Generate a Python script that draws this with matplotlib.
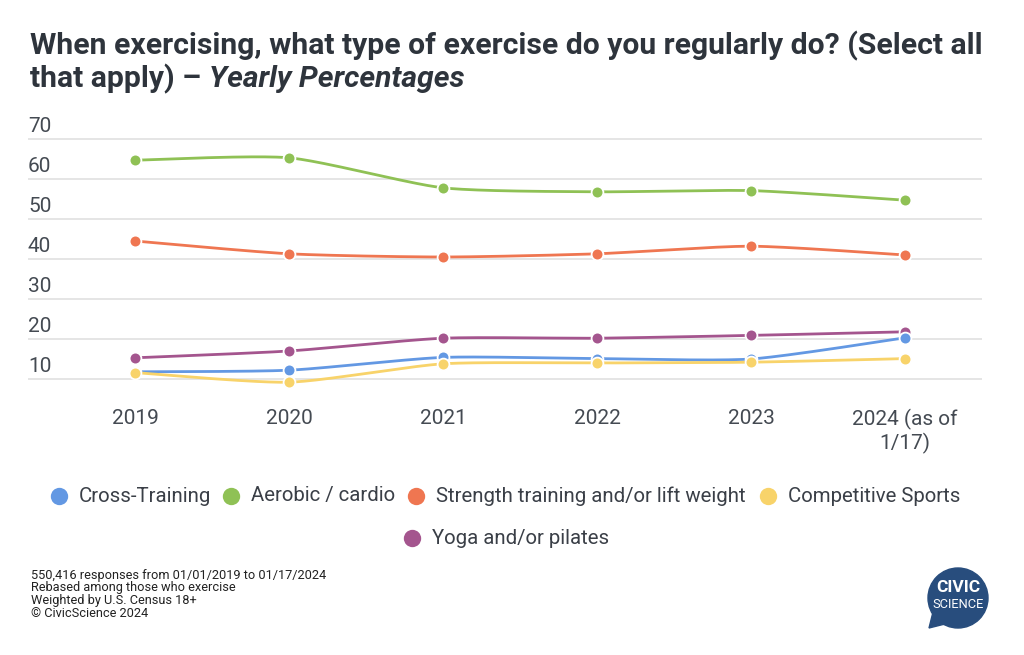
import numpy as np
import matplotlib
matplotlib.use("Agg")
import matplotlib.pyplot as plt
from matplotlib.patches import Circle, Polygon

# ---------------- data ----------------
categories = ["2019", "2020", "2021", "2022", "2023", "2024 (as of\n1/17)"]
series_names = ["Cross-Training", "Aerobic / cardio", "Strength training and/or lift weight",
                "Competitive Sports", "Yoga and/or pilates"]
cross_training = [11.8, 12.2, 15.4, 15.1, 15.0, 20.3]
aerobic = [64.7, 65.3, 57.8, 56.8, 57.1, 54.7]
strength = [44.5, 41.3, 40.5, 41.3, 43.2, 41.0]
competitive = [11.6, 9.2, 13.8, 14.0, 14.2, 15.1]
yoga = [15.3, 17.0, 20.2, 20.2, 20.9, 21.8]
y_ticks = [10, 20, 30, 40, 50, 60, 70]

colors = ["#6398e3", "#8fc155", "#ef7651", "#f8d36a", "#a4558e"]
values = [cross_training, aerobic, strength, competitive, yoga]
draw_order = [1, 2, 4, 0, 3]

W, H = 1024, 655
fig = plt.figure(figsize=(W / 100, H / 100), dpi=100)
FONT = "Roboto"
TXT = "#3a3f47"


def fx(px):
    return px / W


def fy(py):
    return 1 - py / H


# ---------------- axes ----------------
ax_top, ax_bot, ax_l, ax_r = 120, 395, 28, 982
ax = fig.add_axes([fx(ax_l), fy(ax_bot), fx(ax_r) - fx(ax_l), (ax_bot - ax_top) / H])
# 70 at y=139 px, 10 at y=379 px -> 4 px per unit
ax.set_ylim(10 - (ax_bot - 379) / 4, 70 + (139 - ax_top) / 4)
ax.set_xlim(-107 / 154, 5 + 77 / 154)
for s in ax.spines.values():
    s.set_visible(False)
ax.set_xticks([])
ax.set_yticks([])
for t in y_ticks:
    ax.axhline(t, color="#e3e3e3", lw=1.3, zorder=0)
    ax.annotate(str(t), xy=(0, t), xycoords=("axes fraction", "data"),
                xytext=(0, 2.5), textcoords="offset points", ha="left", va="bottom",
                fontsize=15, color="#444a52", family=FONT)


def smooth(xs, ys, n=40, k=0.11):
    xs = np.asarray(xs, float)
    ys = np.asarray(ys, float)
    px, py = [], []
    m = len(xs)
    for i in range(m - 1):
        p0 = (xs[max(i - 1, 0)], ys[max(i - 1, 0)])
        p1 = (xs[i], ys[i])
        p2 = (xs[i + 1], ys[i + 1])
        p3 = (xs[min(i + 2, m - 1)], ys[min(i + 2, m - 1)])
        c1 = (p1[0] + (p2[0] - p0[0]) * k, p1[1] + (p2[1] - p0[1]) * k)
        c2 = (p2[0] - (p3[0] - p1[0]) * k, p2[1] - (p3[1] - p1[1]) * k)
        t = np.linspace(0, 1, n)
        b0 = (1 - t) ** 3
        b1 = 3 * (1 - t) ** 2 * t
        b2 = 3 * (1 - t) * t ** 2
        b3 = t ** 3
        px.append(b0 * p1[0] + b1 * c1[0] + b2 * c2[0] + b3 * p2[0])
        py.append(b0 * p1[1] + b1 * c1[1] + b2 * c2[1] + b3 * p2[1])
    return np.concatenate(px), np.concatenate(py)


xi = np.arange(len(categories))
for z, i in enumerate(draw_order):
    sx, sy = smooth(xi, values[i])
    ax.plot(sx, sy, color=colors[i], lw=2, zorder=2 + z, solid_capstyle="round")
    ax.plot(xi, values[i], "o", color=colors[i], ms=8.5, mec="white", mew=1.3,
            zorder=2 + z, clip_on=False)

for i, c in enumerate(categories):
    ax.annotate(c, xy=(i, 0), xycoords=("data", "axes fraction"),
                xytext=(0, -10), textcoords="offset points", ha="center", va="top",
                fontsize=15, color="#444a52", family=FONT, linespacing=1.15)

# ---------------- title ----------------
TITLE_FS = 21.7
fig.text(fx(30), fy(54), "When exercising, what type of exercise do you regularly do? (Select all",
         fontsize=TITLE_FS, fontweight="bold", family=FONT, color="#2e343c", va="baseline")
t2 = fig.text(fx(30), fy(87), "that apply) \u2013 ", fontsize=TITLE_FS, fontweight="bold",
              family=FONT, color="#2e343c", va="baseline")
fig.canvas.draw()
r = fig.canvas.get_renderer()
bb = t2.get_window_extent(r)
fig.text(bb.x1 / W, fy(87), "Yearly Percentages", fontsize=TITLE_FS, fontweight="bold",
         style="italic", family=FONT, color="#2e343c", va="baseline")

# ---------------- overlay axes in pixel coords ----------------
legax = fig.add_axes([0, 0, 1, 1], facecolor="none")
legax.set_xlim(0, W)
legax.set_ylim(H, 0)
legax.axis("off")

leg_pos = [(59, 496), (231, 496), (416, 496), (768, 496), (412, 538)]
for (lx, ly), name, col in zip(leg_pos, series_names, colors):
    legax.plot([lx], [ly], "o", ms=12.5, color=col, mec="none")
    legax.text(lx + 20, ly, name, fontsize=14.7, family=FONT, color=TXT, va="center", ha="left")

# ---------------- footnote ----------------
foot = ["550,416 responses from 01/01/2019 to 01/17/2024",
        "Rebased among those who exercise",
        "Weighted by U.S. Census 18+",
        "\u00a9 CivicScience 2024"]
for k, line in enumerate(foot):
    legax.text(31, 575 + k * 12.8, line, fontsize=9.2, family=FONT,
               color="#222222", va="center", ha="left")

# ---------------- logo ----------------
logo_col = "#284d7d"
legax.add_patch(Circle((958, 598), 30, color=logo_col, zorder=3))
legax.add_patch(Polygon([[933, 612], [945, 624], [929, 628]], closed=True, color=logo_col, zorder=3))
legax.text(958, 588, "CIVIC", fontsize=12.5, fontweight="bold", family=FONT, color="white",
           ha="center", va="center", zorder=4)
legax.text(958, 604, "SCIENCE", fontsize=9.3, family=FONT, color="white",
           ha="center", va="center", zorder=4)

fig.savefig("out.png", dpi=100)
